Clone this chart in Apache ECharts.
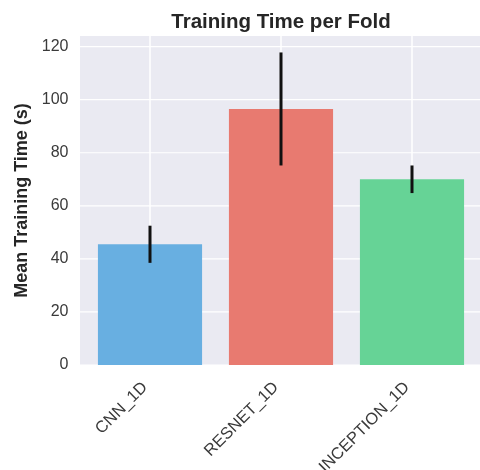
<!DOCTYPE html>
<html><head><meta charset="utf-8">
<script src="https://cdn.jsdelivr.net/npm/echarts@6/dist/echarts.min.js"></script>
<style>html,body{margin:0;padding:0;background:#fff}#c{width:480px;height:470px}</style>
</head><body><div id="c"></div>
<script>
const categories = ['CNN_1D', 'RESNET_1D', 'INCEPTION_1D'];
const meanTimes = [45.5, 96.5, 70.0];
const stdTimes = [7.0, 21.3, 5.2];
const barColors = ['#68AFE1', '#E87A70', '#66D396'];
const yTicks = [0, 20, 40, 60, 80, 100, 120];

const chart = echarts.init(document.getElementById('c'));
const font = 'Liberation Sans, Arial, sans-serif';
const yMax = 124;
const padL = 4.5, padR = 2.5;
chart.setOption({
  animation: false,
  backgroundColor: '#ffffff',
  title: {
    text: 'Training Time per Fold', left: 276, top: 7, textAlign: 'center',
    textStyle: { fontFamily: font, fontSize: 20.5, fontWeight: 'bold', color: '#262626' }
  },
  grid: { left: 80 + padL, right: padR, top: 36, bottom: 105, show: false, containLabel: false, outerBoundsMode: 'none' },
  xAxis: {
    type: 'category', data: categories,
    axisLine: { show: false }, axisTick: { show: false }, splitLine: { show: false },
    axisLabel: { rotate: 45, fontFamily: font, fontSize: 16.5, color: '#3a3a3a', margin: 15, padding: [0, 7, 0, 0] }
  },
  yAxis: {
    type: 'value', min: yTicks[0], max: yMax, interval: 20,
    name: 'Mean Training Time (s)', nameLocation: 'middle', nameGap: 52,
    nameTextStyle: { fontFamily: font, fontSize: 18, fontWeight: 'bold', color: '#262626' },
    axisLine: { show: false }, axisTick: { show: false },
    axisLabel: { fontFamily: font, fontSize: 16, color: '#3a3a3a', margin: 16, showMaxLabel: false,
      formatter: v => yTicks.includes(v) ? String(v) : '' },
    splitLine: { show: false }
  },
  series: [
    {
      type: 'custom', z: 0, silent: true,
      data: [[0]],
      renderItem: (params, api) => {
        const cs = params.coordSys;
        return { type: 'rect', shape: { x: cs.x - padL, y: cs.y, width: cs.width + padL + padR, height: cs.height },
          style: { fill: '#EAEAF2' } };
      }
    },
    {
      type: 'custom', z: 1, silent: true,
      data: yTicks.map(v => [v]),
      renderItem: (params, api) => {
        const cs = params.coordSys;
        const y = api.coord([0, api.value(0)])[1];
        return { type: 'line', shape: { x1: cs.x - padL, y1: y, x2: cs.x + cs.width + padR, y2: y },
          style: { stroke: '#ffffff', lineWidth: 1.2 } };
      }
    },
    {
      type: 'custom', z: 1, silent: true,
      data: categories.map((c, i) => [i]),
      renderItem: (params, api) => {
        const p0 = api.coord([api.value(0), 0]);
        const p1 = api.coord([api.value(0), yMax]);
        return { type: 'line', shape: { x1: p0[0], y1: p0[1], x2: p1[0], y2: p1[1] },
          style: { stroke: '#ffffff', lineWidth: 1.5 } };
      }
    },
    {
      type: 'bar', z: 2, barWidth: '79.5%',
      data: meanTimes.map((v, i) => ({ value: v, itemStyle: { color: barColors[i] } }))
    },
    {
      type: 'custom', z: 3, silent: true,
      data: meanTimes.map((m, i) => [i, m - stdTimes[i], m + stdTimes[i]]),
      renderItem: (params, api) => {
        const lo = api.coord([api.value(0), api.value(1)]);
        const hi = api.coord([api.value(0), api.value(2)]);
        return { type: 'line', shape: { x1: lo[0], y1: lo[1], x2: hi[0], y2: hi[1] },
          style: { stroke: '#111111', lineWidth: 3 } };
      }
    }
  ]
});
</script></body></html>
